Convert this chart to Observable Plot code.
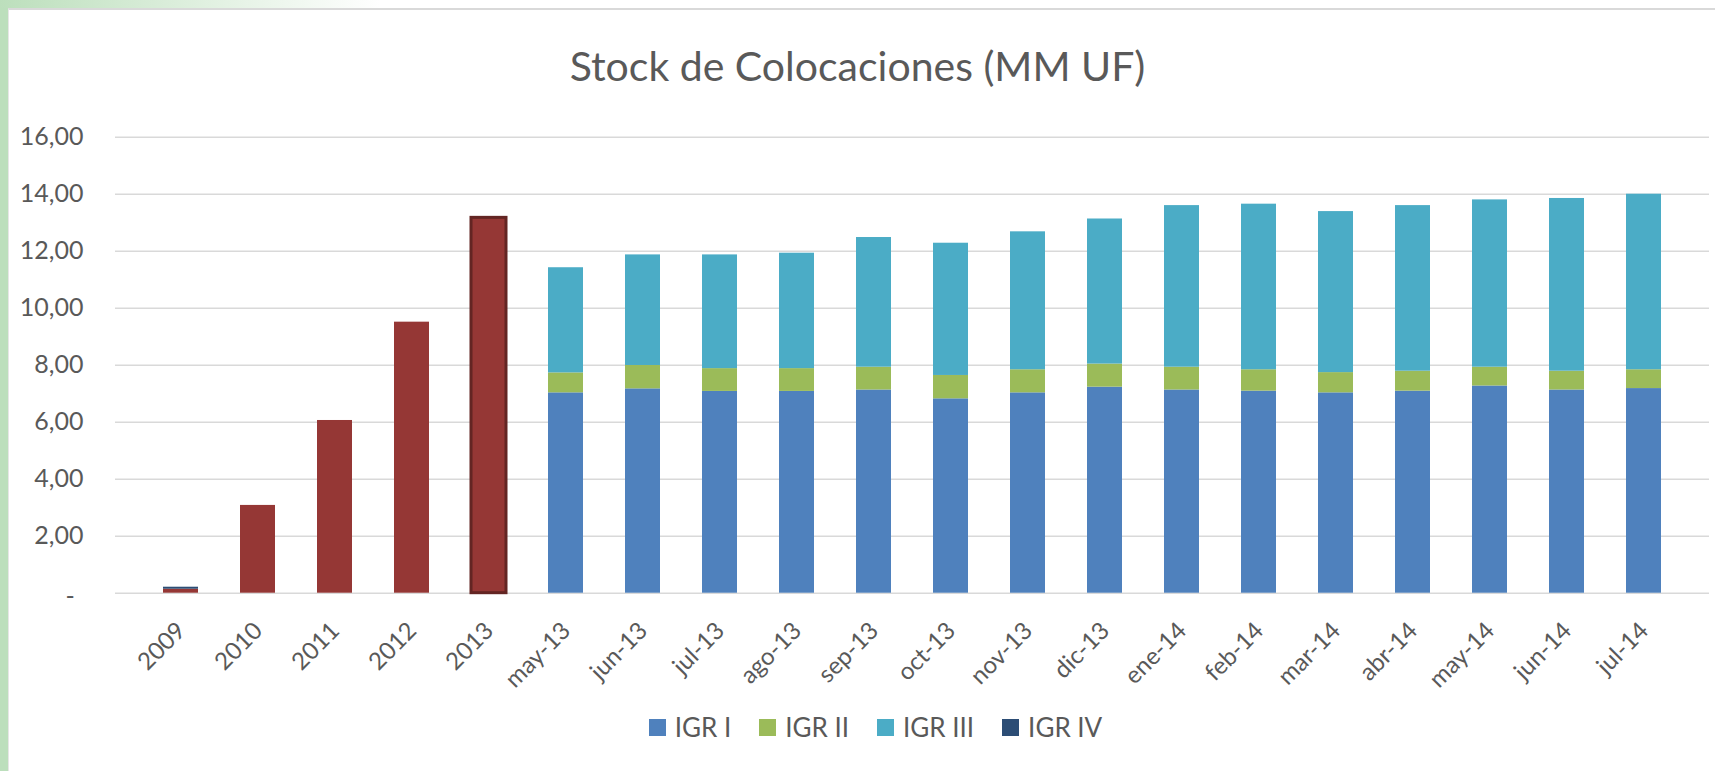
<!DOCTYPE html>
<html>
<head>
<meta charset="utf-8">
<script src="https://cdn.jsdelivr.net/npm/d3@7"></script>
<script src="https://cdn.jsdelivr.net/npm/@observablehq/plot@0.6"></script>
<style>
  html, body { margin: 0; padding: 0; background: #fff; }
  body { width: 1715px; height: 771px; position: relative; overflow: hidden; font-family: Lato, "Open Sans", sans-serif; }
  #leftStrip { position: absolute; left: 0; top: 0; width: 8px; height: 771px; background: #bcdfbc; }
  #topStrip { position: absolute; left: 0; top: 0; width: 380px; height: 8px; background: linear-gradient(to right, #bcdfbc, #ffffff); }
  #frame { position: absolute; left: 8px; top: 8px; width: 1720px; height: 800px; border-top: 2px solid #d9d9d9; border-left: 1px solid #e6e6e6; }
  #chart { position: absolute; left: 0; top: 0; }
  #title { position: absolute; left: 0; width: 1715px; top: 44px; text-align: center; font-size: 41px; color: #595959; line-height: 44px; }
  #legend { position: absolute; left: 18px; width: 1715px; top: 712px; display: flex; justify-content: center; gap: 28px; font-size: 26px; color: #595959; line-height: 30px; }
  .item { display: flex; align-items: center; gap: 9px; }
  .sw { width: 17px; height: 17px; display: inline-block; }
</style>
</head>
<body>
<div id="leftStrip"></div>
<div id="topStrip"></div>
<div id="frame"></div>
<div id="chart"></div>
<div id="title">Stock de Colocaciones (MM UF)</div>
<div id="legend"></div>
<script>
// Categories
const years = ["2009", "2010", "2011", "2012", "2013"];
const months = ["may-13", "jun-13", "jul-13", "ago-13", "sep-13", "oct-13", "nov-13", "dic-13",
                "ene-14", "feb-14", "mar-14", "abr-14", "may-14", "jun-14", "jul-14"];

// Annual stock (red bars, not in legend)
const annualStock = [0.14, 3.08, 6.06, 9.51, 13.17];
// IGR IV on the annual bars (only visible in 2009)
const igr4Annual = [0.07, 0, 0, 0, 0];

// Monthly stacked series
const igr1 = [7.03, 7.17, 7.08, 7.08, 7.13, 6.82, 7.03, 7.23, 7.13, 7.09, 7.03, 7.09, 7.27, 7.13, 7.18];
const igr2 = [0.70, 0.82, 0.80, 0.80, 0.80, 0.82, 0.81, 0.81, 0.80, 0.75, 0.71, 0.70, 0.66, 0.66, 0.66];
const igr3 = [3.69, 3.88, 3.99, 4.05, 4.55, 4.64, 4.84, 5.09, 5.67, 5.81, 5.65, 5.81, 5.87, 6.06, 6.16];

const yTicks = [0, 2, 4, 6, 8, 10, 12, 14, 16];

const seriesNames = ["Total", "IGR I", "IGR II", "IGR III", "IGR IV"];
const seriesColors = ["#953735", "#4f81bd", "#9bbb59", "#4bacc6", "#2c4d75"];
const legendNames = ["IGR I", "IGR II", "IGR III", "IGR IV"];

const categories = [...years, ...months];

const rows = [];
years.forEach((c, i) => {
  rows.push({cat: c, series: "Total", value: annualStock[i]});
  rows.push({cat: c, series: "IGR IV", value: igr4Annual[i]});
});
months.forEach((c, i) => {
  rows.push({cat: c, series: "IGR I", value: igr1[i]});
  rows.push({cat: c, series: "IGR II", value: igr2[i]});
  rows.push({cat: c, series: "IGR III", value: igr3[i]});
});

const fmt = d => d.toFixed(2).replace(".", ",");

const plot = Plot.plot({
  width: 1715,
  height: 771,
  marginLeft: 115,
  marginRight: 6,
  marginTop: 136.7,
  marginBottom: 771 - 592.7,
  style: {fontFamily: "Lato, 'Open Sans', sans-serif", fontSize: "24px", color: "#595959", background: "transparent"},
  x: {domain: categories, padding: 0.54, label: null, axis: null},
  y: {domain: [0, 16], label: null},
  color: {domain: seriesNames, range: seriesColors},
  marks: [
    Plot.ruleY(yTicks, {stroke: "#d9d9d9", strokeWidth: 1.5}),
    Plot.barY(rows, Plot.stackY({
      x: "cat", y: "value", fill: "series", order: seriesNames,
      stroke: d => d.cat === "2013" && d.series === "Total" ? "#632523" : "none",
      strokeWidth: 3
    })),
    Plot.axisY(yTicks.filter(d => d > 0), {tickSize: 0, tickPadding: 32, tickFormat: fmt, fontSize: 25}),
    Plot.text([0], {y: d => d, text: () => "-", frameAnchor: "left", dx: -50, dy: 4, fontSize: 25, fill: "#595959"}),
    Plot.text(categories, {
      x: d => d, y: () => 0, text: d => d,
      rotate: -45, textAnchor: "end", lineAnchor: "middle",
      dx: 0.5, dy: 33.5, fontSize: 24, fill: "#595959"
    })
  ]
});
document.getElementById("chart").appendChild(plot);

const legend = document.getElementById("legend");
legendNames.forEach(name => {
  const item = document.createElement("div");
  item.className = "item";
  const sw = document.createElement("span");
  sw.className = "sw";
  sw.style.background = seriesColors[seriesNames.indexOf(name)];
  const t = document.createElement("span");
  t.textContent = name;
  item.appendChild(sw);
  item.appendChild(t);
  legend.appendChild(item);
});
</script>
</body>
</html>
